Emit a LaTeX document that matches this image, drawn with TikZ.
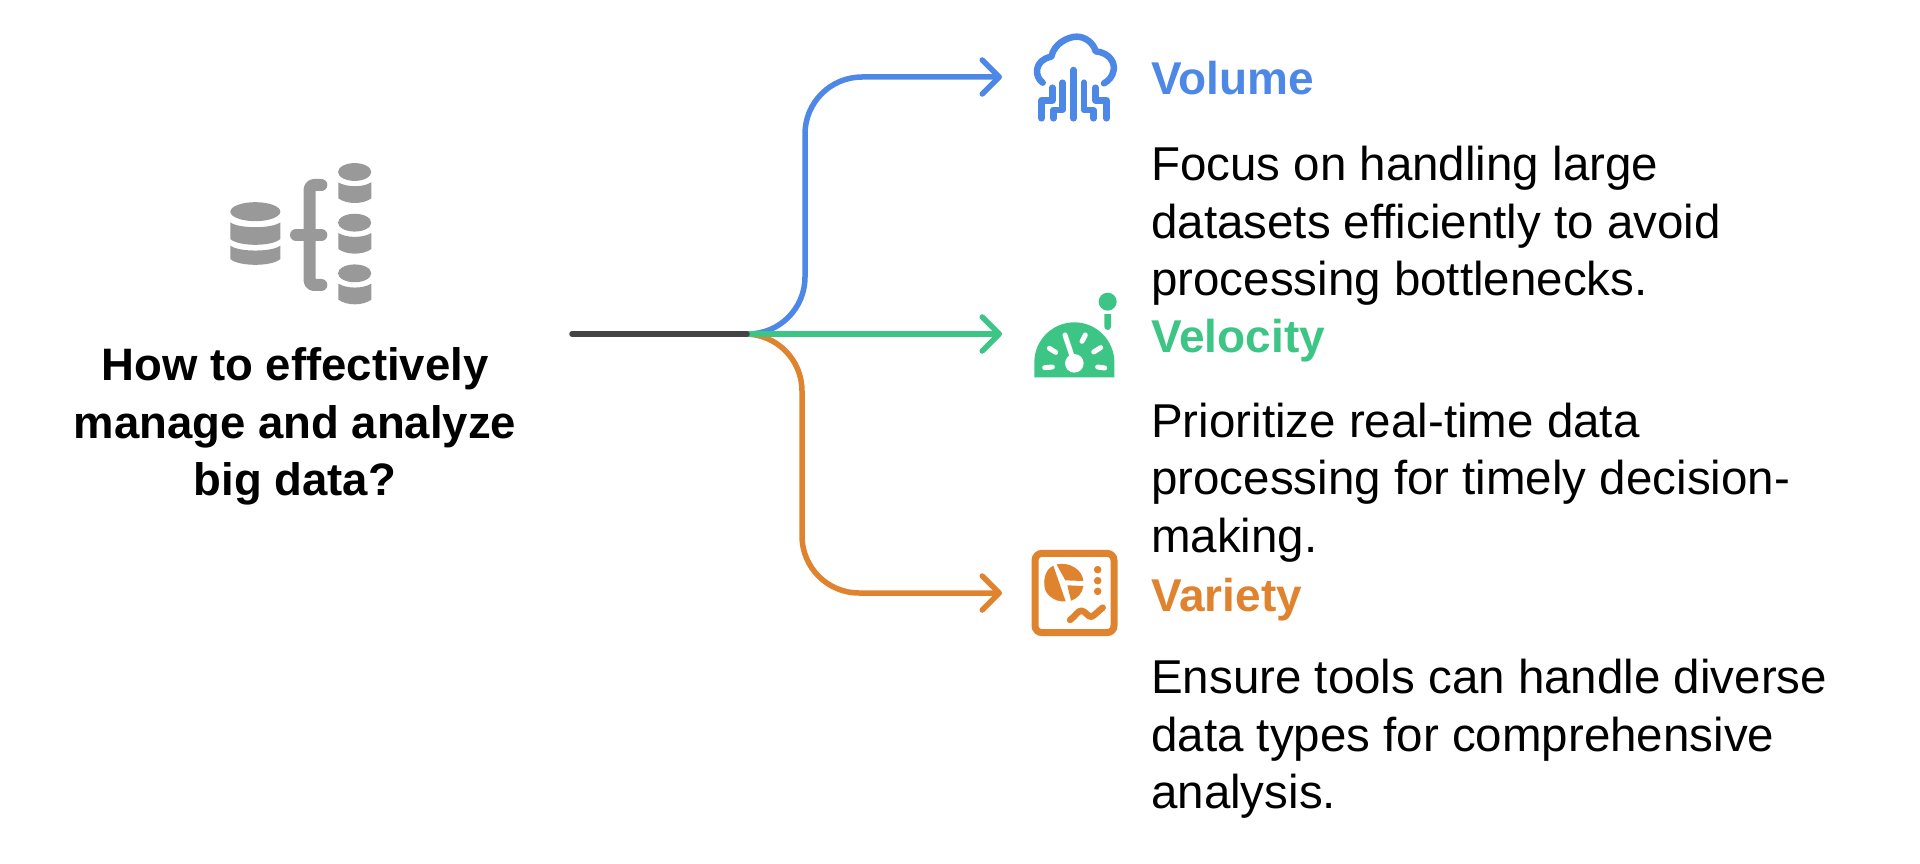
\documentclass[tikz,border=0pt]{standalone}
\usepackage{fontspec}
\setmainfont{Liberation Sans}
\usetikzlibrary{arrows.meta}
\definecolor{cblue}{HTML}{4E88E7}
\definecolor{cgreen}{HTML}{3DC585}
\definecolor{corange}{HTML}{E0832F}
\definecolor{cgray}{HTML}{999999}
\definecolor{cdark}{HTML}{444444}
\tikzset{
  conn/.style={line width=5.5pt,line cap=round,rounded corners=57pt,-{Straight Barb[round,length=17pt,width=34pt,line width=5.5pt]}},
  headtext/.style={font=\fontsize{46}{52}\selectfont\bfseries,anchor=base west,inner sep=0pt},
  bodytext/.style={font=\fontsize{47.5}{57.6}\selectfont,anchor=north west,align=left,inner sep=0pt,text=black},
  titletext/.style={font=\fontsize{45.5}{57.6}\selectfont\bfseries,align=center,inner sep=0pt,text=black},
  iconbox/.style={minimum width=100pt,minimum height=100pt,inner sep=0pt,anchor=west},
  zoomed/.style={x=0.33333pt,y=-0.33333pt}
}
\newcommand{\dbbody}[5]{% x1 x2 ytop dip ybot-side
  \fill[cgray] ({#1},{#3}) .. controls ({#1+25},{(#3)+#4*1.3}) and ({#2-25},{(#3)+#4*1.3}) .. ({#2},{#3})
   -- ({#2},{#5}) .. controls ({#2-25},{(#5)+#4*1.55}) and ({#1+25},{(#5)+#4*1.55}) .. ({#1},{#5}) -- cycle;}
\begin{document}
\begin{tikzpicture}[x=1pt,y=-1pt]
\path[use as bounding box,fill=white] (0,0) rectangle (1920,864);

% anchors for icons
\node[iconbox] (volicon) at (1002,77) {};
\node[iconbox] (velicon) at (1002,334) {};
\node[iconbox] (varicon) at (1002,593) {};
\coordinate (start) at (572,334);
\coordinate (hub) at (747,334);
\coordinate (bluebend) at (805,200);
\coordinate (orangebend) at (802,460);

% connectors
\draw[conn,cblue] (hub) -| (bluebend) |- (volicon.west);
\draw[conn,corange] (hub) -| (orangebend) |- (varicon.west);
\draw[conn,cgreen] (hub) -- (velicon.west);
\draw[line width=5.5pt,line cap=round,cdark] (start) -- (hub);

% main icon
\begin{scope}[shift={(200,140)},zoomed]
  \fill[cgray] (166,215) ellipse [x radius=25pt,y radius=9.5pt];
  \dbbody{91}{241}{247}{15}{297}
  \dbbody{91}{241}{317}{15}{357}
  \draw[cgray,line width=12pt,line cap=round,line join=round,rounded corners=4pt] (364,135) -- (329,135) -- (329,435) -- (364,435);
  \draw[cgray,line width=12pt,line cap=round] (288,285) -- (364,285);
  \foreach \d in {0,152,304}{
    \fill[cgray] (464,{96+\d}) ellipse [x radius=16.6pt,y radius=8.9pt];
    \dbbody{415}{514}{127+\d}{12}{175+\d}
  }
\end{scope}

% cloud icon
\begin{scope}[shift={(1010,20)},zoomed,line width=6.5pt,line cap=round,line join=round,draw=cblue]
  \draw (98,188) .. controls (72,170) and (72,120) .. (124,110)
        .. controls (132,70) and (175,50) .. (200,50)
        .. controls (225,50) and (250,68) .. (257,94)
        .. controls (300,98) and (315,130) .. (311,150)
        .. controls (308,170) and (295,183) .. (282,190);
  \draw (190,150) -- (190,295);
  \draw (158,188) -- (158,270) -- (130,270) -- (130,295);
  \draw (127,203) -- (127,241) -- (95,241) -- (95,295);
  \draw (222,188) -- (222,270) -- (250,270) -- (250,295);
  \draw (256,203) -- (256,241) -- (290,241) -- (290,295);
\end{scope}

% gauge icon
\begin{scope}[shift={(1010,280)},zoomed]
  \fill[cgreen] (73,292) -- (73,247) arc [start angle=180,end angle=0,radius=40pt] -- (313,292) -- cycle;
  \fill[white] (193,250) circle [radius=9.3pt];
  \draw[white,line width=5pt,line cap=round] (165,165) -- (190,240);
  \draw[white,line width=5pt,line cap=round] (104,263) -- (127,261);
  \draw[white,line width=5pt,line cap=round] (118,205) -- (137,217);
  \draw[white,line width=5pt,line cap=round] (226,165) -- (216,184);
  \draw[white,line width=5pt,line cap=round] (272,203) -- (251,216);
  \draw[white,line width=5pt,line cap=round] (263,261) -- (284,264);
  \fill[cgreen] (293,65) circle [radius=9pt];
  \fill[cgreen] (283,102) -- (303,102) -- (303,140) arc [start angle=0,end angle=-180,radius=3.33pt] -- cycle;
\end{scope}

% chart icon
\begin{scope}[shift={(1010,535)},zoomed]
  \draw[corange,line width=7pt,rounded corners=7pt] (75,55) rectangle (312,293);
  \fill[corange] (130,92) .. controls (100,105) and (98,150) .. (108,170) .. controls (120,190) and (145,202) .. (167,199) -- cycle;
  \fill[corange] (140,88) .. controls (180,80) and (218,105) .. (220,138) -- (166,136) .. controls (158,120) and (148,105) .. (140,88) -- cycle;
  \fill[corange] (172,151) -- (220,153) .. controls (218,175) and (200,192) .. (183,197) -- cycle;
  \foreach \yy in {104,137,169}{\fill[corange] (263,\yy) circle [radius=3.8pt];}
  \draw[corange,line width=6.5pt,line cap=round,line join=round] (180,255) .. controls (195,245) and (205,225) .. (215,227) .. controls (228,230) and (235,248) .. (245,245) .. controls (255,240) and (265,228) .. (278,218);
\end{scope}

% texts
\node[titletext] (title) at (295,426.5) {How to effectively\\manage and analyze\\big data?};

\node[headtext,text=cblue] (volhead) at (1151,95) {Volume};
\node[headtext,text=cgreen] (velhead) at (1151,352) {Velocity};
\node[headtext,text=corange] (varhead) at (1151,611) {Variety};

\node[bodytext] (volbody) at (1151,146) {Focus on handling large\\datasets efficiently to avoid\\processing bottlenecks.};
\node[bodytext] (velbody) at (1151,402.5) {Prioritize real-time data\\processing for timely decision-\\making.};
\node[bodytext] (varbody) at (1151,659) {Ensure tools can handle diverse\\data types for comprehensive\\analysis.};
\end{tikzpicture}
\end{document}
